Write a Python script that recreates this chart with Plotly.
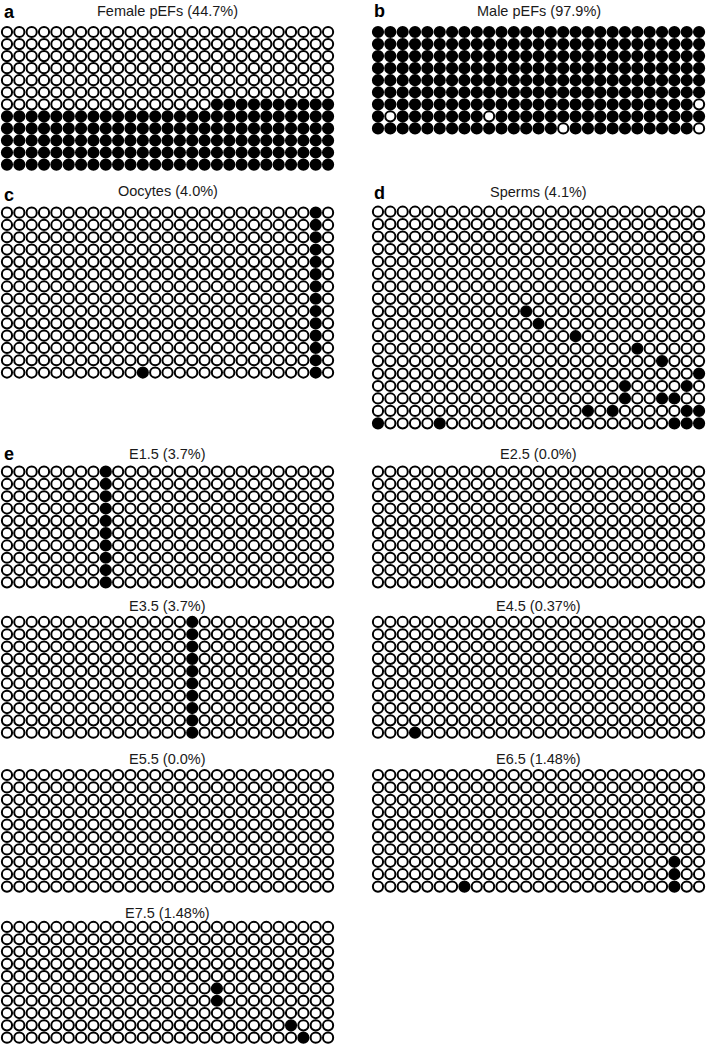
import plotly.graph_objects as go

W, H = 708, 1046
n_cols = 27

titles = ["Female pEFs (44.7%)", "Male pEFs (97.9%)", "Oocytes (4.0%)", "Sperms (4.1%)",
          "E1.5 (3.7%)", "E2.5 (0.0%)", "E3.5 (3.7%)", "E4.5 (0.37%)",
          "E5.5 (0.0%)", "E6.5 (1.48%)", "E7.5 (1.48%)"]
letters = ["a", "b", "c", "d", "e", "", "", "", "", "", ""]
n_rows = [12, 9, 14, 18, 10, 10, 10, 10, 10, 10, 10]

# filled cells, (row, col) with row 0 at the top
female_filled_runs = [(6, 17, 26), (7, 0, 26), (8, 0, 26), (9, 0, 26), (10, 0, 26), (11, 0, 26)]
male_open_cells = [(6, 26), (7, 1), (7, 9), (8, 15), (8, 26)]
oocyte_filled = [(0, 25), (1, 25), (2, 25), (3, 25), (4, 25), (5, 25), (6, 25),
                 (7, 25), (8, 25), (9, 25), (10, 25), (11, 25), (12, 25), (13, 25), (13, 11)]
sperm_filled = [(8, 12), (9, 13), (10, 16), (11, 21), (12, 23), (13, 26), (14, 20), (14, 25),
                (15, 20), (15, 23), (15, 24), (16, 17), (16, 19), (16, 25), (16, 26),
                (17, 0), (17, 5), (17, 24), (17, 25), (17, 26)]
e15_filled = [(0, 8), (1, 8), (2, 8), (3, 8), (4, 8), (5, 8), (6, 8), (7, 8), (8, 8), (9, 8)]
e25_filled = []
e35_filled = [(0, 15), (1, 15), (2, 15), (3, 15), (4, 15), (5, 15), (6, 15), (7, 15), (8, 15), (9, 15)]
e45_filled = [(9, 3)]
e55_filled = []
e65_filled = [(7, 24), (8, 24), (9, 24), (9, 7)]
e75_filled = [(5, 17), (6, 17), (8, 23), (9, 24)]


def cells_from_runs(runs):
    return {(r, c) for r, c0, c1 in runs for c in range(c0, c1 + 1)}


def cells_except(rows, open_cells):
    return {(r, c) for r in range(rows) for c in range(n_cols)} - set(open_cells)


filled_sets = [cells_from_runs(female_filled_runs), cells_except(n_rows[1], male_open_cells),
               set(oocyte_filled), set(sperm_filled), set(e15_filled), set(e25_filled),
               set(e35_filled), set(e45_filled), set(e55_filled), set(e65_filled), set(e75_filled)]

# panel placement in pixels: grid left, grid top, row pitch, title y
col_pitch = 12.35
placement = [
    (0.8, 26.0, 12.05, 10.5), (371.8, 26.0, 12.05, 10.5),
    (0.8, 206.5, 12.3, 191.0), (371.8, 205.5, 12.45, 191.5),
    (0.8, 465.5, 12.3, 454.0), (371.8, 465.5, 12.3, 454.0),
    (0.8, 615.8, 12.3, 606.0), (371.8, 615.8, 12.3, 606.0),
    (0.8, 768.8, 12.4, 759.0), (371.8, 768.8, 12.4, 759.0),
    (0.8, 920.8, 12.3, 913.0),
]
letter_pos = [(2, 11.5), (372, 11), (2, 195), (372, 193), (2, 454)]

fig = go.Figure()
annotations = []
for i, title in enumerate(titles):
    rows = n_rows[i]
    filled = filled_sets[i]
    xs, ys, colors = [], [], []
    for r in range(rows):
        for c in range(n_cols):
            xs.append(c)
            ys.append(r)
            colors.append("black" if (r, c) in filled else "white")
    ax = "" if i == 0 else str(i + 1)
    fig.add_trace(go.Scatter(
        x=xs, y=ys, mode="markers", xaxis="x" + ax, yaxis="y" + ax, cliponaxis=False,
        marker=dict(size=10.2, color=colors, line=dict(color="black", width=2)),
        hoverinfo="skip", showlegend=False))

    left, top, pitch, title_y = placement[i]
    width = n_cols * col_pitch
    fig.update_layout(**{
        "xaxis" + ax: dict(domain=[left / W, (left + width) / W], range=[-0.5, n_cols - 0.5],
                           visible=False, fixedrange=True, anchor="y" + ax),
        "yaxis" + ax: dict(domain=[1 - (top + rows * pitch) / H, 1 - top / H],
                           range=[rows - 0.5, -0.5], visible=False, fixedrange=True,
                           anchor="x" + ax),
    })
    annotations.append(dict(
        text=title, x=(left + width / 2) / W, y=1 - title_y / H, xref="paper", yref="paper",
        xanchor="center", yanchor="middle", showarrow=False,
        font=dict(family="Liberation Sans, Arial, sans-serif", size=14.5, color="#1a1a1a")))

for letter, (lx, ly) in zip(letters, letter_pos):
    annotations.append(dict(
        text="<b>%s</b>" % letter, x=lx / W, y=1 - ly / H, xref="paper", yref="paper",
        xanchor="left", yanchor="middle", showarrow=False,
        font=dict(family="Liberation Sans, Arial, sans-serif", size=18, color="black")))

fig.update_layout(
    width=W, height=H,
    margin=dict(l=0, r=0, t=0, b=0),
    paper_bgcolor="white", plot_bgcolor="white",
    annotations=annotations,
)

# drop the default page margin so the figure sits at the window origin
fig.write_html("out.html", config={"displayModeBar": False},
               post_script="document.body.style.margin='0';document.body.style.overflow='hidden';")
